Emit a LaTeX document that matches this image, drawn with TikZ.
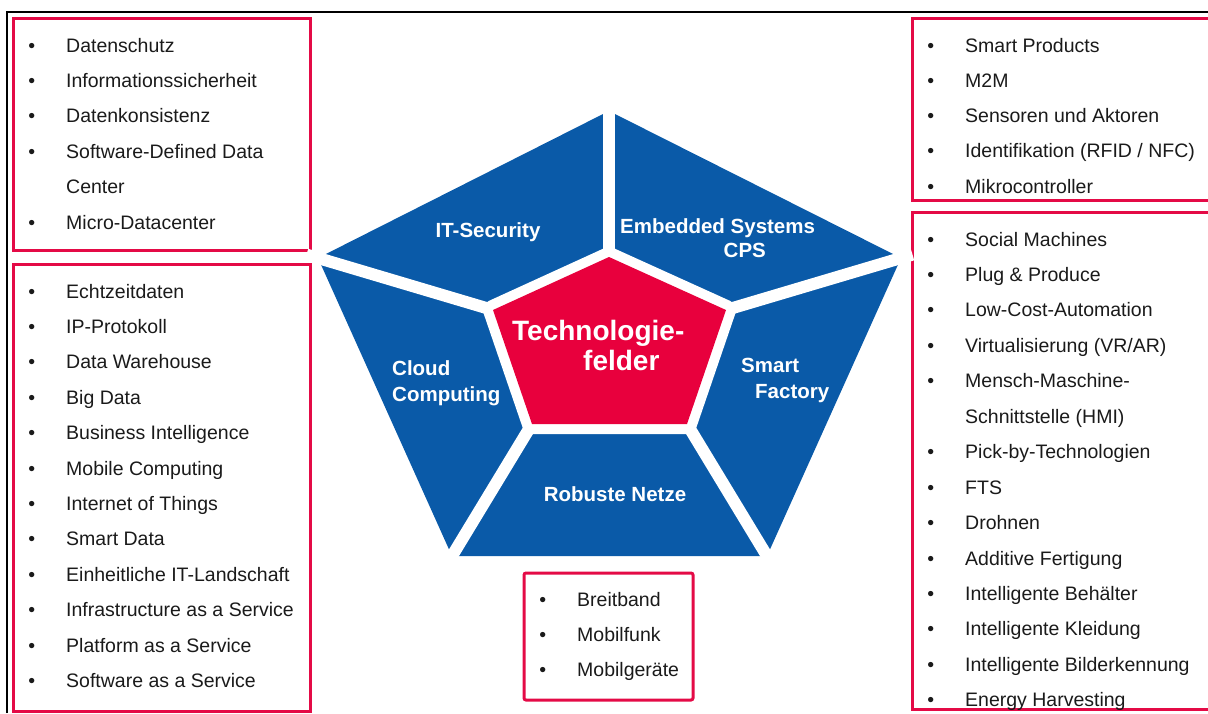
\documentclass[tikz,border=0pt]{standalone}
\usepackage{fontspec}
\setmainfont{Liberation Sans}
\definecolor{pblue}{RGB}{10,90,168}
\definecolor{pred}{RGB}{232,0,61}
\definecolor{bred}{RGB}{228,10,70}
\definecolor{txt}{RGB}{26,26,26}
\newcommand\bul{\makebox[0pt][r]{\textbullet\hspace{31pt}}}
\begin{document}
\begin{tikzpicture}[x=1pt,y=-1pt,
  item/.style={anchor=base west, inner sep=0pt, font=\fontsize{19.5}{23}\selectfont, text=txt},
  lbl/.style={text=white, font=\bfseries\fontsize{20.5}{25}\selectfont, inner sep=0pt},
  biglbl/.style={text=white, font=\bfseries\fontsize{28}{30}\selectfont, inner sep=0pt},
  listbox/.style={draw=bred, line width=3pt},
  gap/.style={white, line width=12pt, shorten >=-12pt}]
\useasboundingbox (0,0) rectangle (1208,713);
% frame
\draw[black, line width=2pt] (7,713) -- (7,12) -- (1210,12);
% list boxes
\draw[listbox] (13,18) rectangle (310,250);
\draw[listbox] (13,264) rectangle (310,711);
\draw[listbox] (912,18) rectangle (1215,200);
\draw[listbox] (912,212) rectangle (1215,709);
\draw[listbox, rounded corners=2pt] (524,573) rectangle (693,700);
% pentagon coordinates
\coordinate (oT) at (609,111);
\coordinate (oL) at (318,258);
\coordinate (oR) at (901,258);
\coordinate (oBL) at (452,556);
\coordinate (oBR) at (767,556);
\coordinate (iT) at (609,257);
\coordinate (iL) at (493,310);
\coordinate (iR) at (726,310);
\coordinate (iBL) at (532,424);
\coordinate (iBR) at (687,424);
% blue outer pentagon
\fill[pblue] (oT) -- (oR) -- (oBR) -- (oBL) -- (oL) -- cycle;
% gaps
\draw[gap] (iT) -- (oT);
\draw[gap] (iL) -- (oL);
\draw[gap] (iR) -- (oR);
\draw[gap] (iBL) -- (oBL);
\draw[gap] (iBR) -- (oBR);
\draw[white, line width=20pt, line join=round] (iT) -- (iR) -- (iBR) -- (iBL) -- (iL) -- cycle;
\fill[pred] (iT) -- (iR) -- (iBR) -- (iBL) -- (iL) -- cycle;
% labels
\node[lbl, anchor=base] (itsec) at (488,237) {IT-Security};
\node[lbl, anchor=base west] (emb1) at (620,233.5) {Embedded Systems};
\node[lbl, anchor=base west] (emb2) at (723.5,257.5) {CPS};
\node[lbl, anchor=base west] (cloud1) at (392,375.5) {Cloud};
\node[lbl, anchor=base west] (cloud2) at (392,401.5) {Computing};
\node[lbl, anchor=base west] (smart1) at (741,372.5) {Smart};
\node[lbl, anchor=base west] (smart2) at (755,398.5) {Factory};
\node[lbl, anchor=base] (netze) at (615,501.5) {Robuste Netze};
\node[biglbl, anchor=base west] (tech1) at (512,340.5) {Technologie-};
\node[biglbl, anchor=base west] (tech2) at (583,370) {felder};
% lists
\foreach \t [count=\i] in {\bul Datenschutz, \bul Informationssicherheit, \bul Datenkonsistenz, \bul Software-Defined Data, Center, \bul Micro-Datacenter}
  \node[item] (lt\i) at (66,{52+35.4*(\i-1)}) {\t};
\foreach \t [count=\i] in {\bul Echtzeitdaten, \bul IP-Protokoll, \bul Data Warehouse, \bul Big Data, \bul Business Intelligence, \bul Mobile Computing, \bul Internet of Things, \bul Smart Data, \bul Einheitliche IT-Landschaft, \bul Infrastructure as a Service, \bul Platform as a Service, \bul Software as a Service}
  \node[item] (lb\i) at (66,{298+35.4*(\i-1)}) {\t};
\foreach \t [count=\i] in {\bul Smart Products, \bul M2M, \bul Sensoren und Aktoren, \bul Identifikation (RFID / NFC), \bul Mikrocontroller}
  \node[item] (rt\i) at (965,{52+35.3*(\i-1)}) {\t};
\foreach \t [count=\i] in {\bul Social Machines, \bul Plug \& Produce, \bul Low-Cost-Automation, \bul Virtualisierung (VR/AR), \bul Mensch-Maschine-, Schnittstelle (HMI), \bul Pick-by-Technologien, \bul FTS, \bul Drohnen, \bul Additive Fertigung, \bul Intelligente Behälter, \bul Intelligente Kleidung, \bul Intelligente Bilderkennung, \bul Energy Harvesting}
  \node[item] (rb\i) at (965,{246+35.45*(\i-1)}) {\t};
\foreach \t [count=\i] in {\bul Breitband, \bul Mobilfunk, \bul Mobilgeräte}
  \node[item] (mb\i) at (577,{606+35.3*(\i-1)}) {\t};
\end{tikzpicture}
\end{document}
